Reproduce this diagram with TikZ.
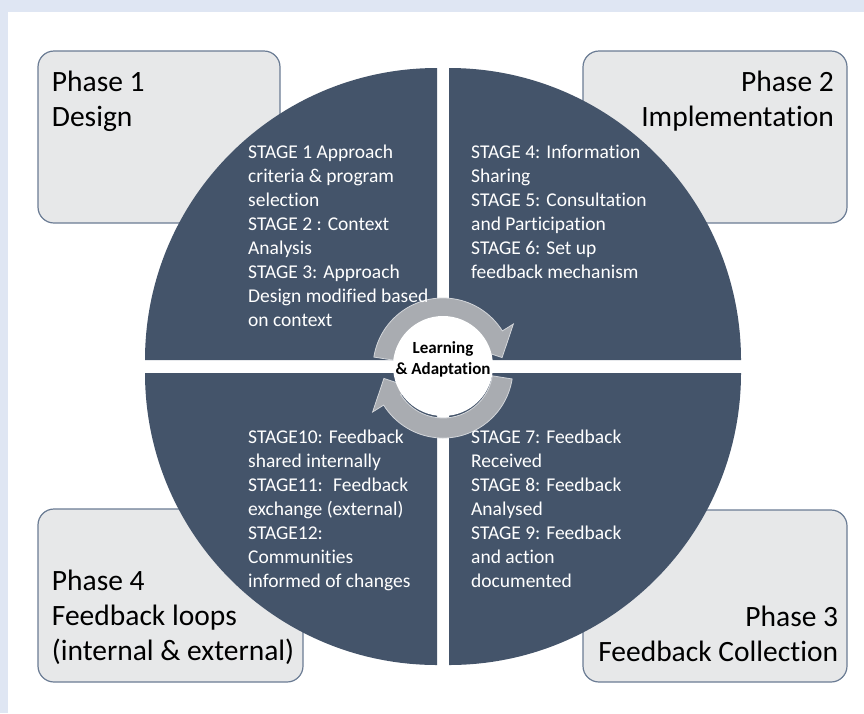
\documentclass[tikz,border=0pt]{standalone}
\usepackage{fontspec}
\setmainfont{Carlito}[Ligatures=NoCommon]
\definecolor{bgblue}{HTML}{DFE6F3}
\definecolor{boxfill}{HTML}{E7E8E9}
\definecolor{boxline}{HTML}{6B7C94}
\definecolor{quad}{HTML}{44546A}
\definecolor{ringgray}{HTML}{A9ACB1}
\definecolor{ringline}{HTML}{D3D6DA}
\tikzset{
  phasebox/.style={fill=boxfill, draw=boxline, line width=1.2pt, rounded corners=16pt},
  quadrant/.style={fill=quad},
  stagetext/.style={text=white, font=\fontsize{19.5}{24}\selectfont, align=left, anchor=north west, inner sep=0pt},
  phasetext/.style={text=black, font=\fontsize{29.5}{35}\selectfont, inner sep=0pt},
  ringarrow/.style={fill=ringgray, draw=ringline, line width=0.8pt},
}
\begin{document}
\begin{tikzpicture}[x=1pt,y=-1pt]
\useasboundingbox (0,0) rectangle (864,713);
% background
\fill[bgblue] (0,0) rectangle (864,713);
\fill[white] (8,12) rectangle (864,713);
% phase boxes
\draw[phasebox] (38,51) rectangle (280,223);
\draw[phasebox] (583,51) rectangle (847,223);
\draw[phasebox] (583,510) rectangle (847,682);
\draw[phasebox] (38,509) rectangle (303,682);
% quadrants
\fill[quadrant] (437,360) -- (145,360) arc[start angle=180, end angle=270, radius=292] -- cycle;
\fill[quadrant] (449,360) -- (449,68) arc[start angle=270, end angle=360, radius=292] -- cycle;
\fill[quadrant] (449,373) -- (741,373) arc[start angle=0, end angle=90, radius=292] -- cycle;
\fill[quadrant] (437,373) -- (437,665) arc[start angle=90, end angle=180, radius=292] -- cycle;
% cycle arrows
\begin{scope}[shift={(443,368)}]
  \filldraw[ringarrow] (189:70) arc[start angle=189, end angle=328, radius=70]
    -- (328:83) -- (350:60) -- (328:37) -- (328:50)
    arc[start angle=328, end angle=189, radius=50] -- cycle;
  \filldraw[ringarrow] (9:70) arc[start angle=9, end angle=148, radius=70]
    -- (148:83) -- (170:60) -- (148:37) -- (148:50)
    arc[start angle=148, end angle=9, radius=50] -- cycle;
  \fill[white] (0,-2) circle[radius=50];
\end{scope}
\node[font=\bfseries\fontsize{17}{21}\selectfont, align=center, anchor=north, inner sep=0pt] (learn) at (443,338.3) {\strut Learning\\\& Adaptation};
% phase texts
\node[phasetext, anchor=north west, align=left] (p1) at (51.7,66.5) {\strut Phase 1\\Design};
\node[phasetext, anchor=north east, align=right] (p2) at (834,66.5) {\strut Phase 2\\Implementation};
\node[phasetext, anchor=north east, align=right] (p3) at (838.3,602.2) {\strut Phase 3\\Feedback Collection};
\node[phasetext, anchor=north west, align=left] (p4) at (51.7,565.5) {\strut Phase 4\\Feedback loops\\(internal \& external)};
% stage texts
\node[stagetext] (s1) at (248,141.2) {\strut STAGE 1 Approach\\criteria \& program\\selection\\STAGE 2 : Context\\Analysis\\STAGE 3: Approach\\Design modified based\\on context};
\node[stagetext] (s4) at (471,141.2) {\strut STAGE 4: Information\\Sharing\\STAGE 5: Consultation\\and Participation\\STAGE 6: Set up\\feedback mechanism};
\node[stagetext] (s10) at (248,426.2) {\strut STAGE10: Feedback\\shared internally\\STAGE11:~ Feedback\\exchange (external)\\STAGE12:\\Communities\\informed of changes};
\node[stagetext] (s7) at (471,426.2) {\strut STAGE 7: Feedback\\Received\\STAGE 8: Feedback\\Analysed\\STAGE 9: Feedback\\and action\\documented};
\end{tikzpicture}
\end{document}
